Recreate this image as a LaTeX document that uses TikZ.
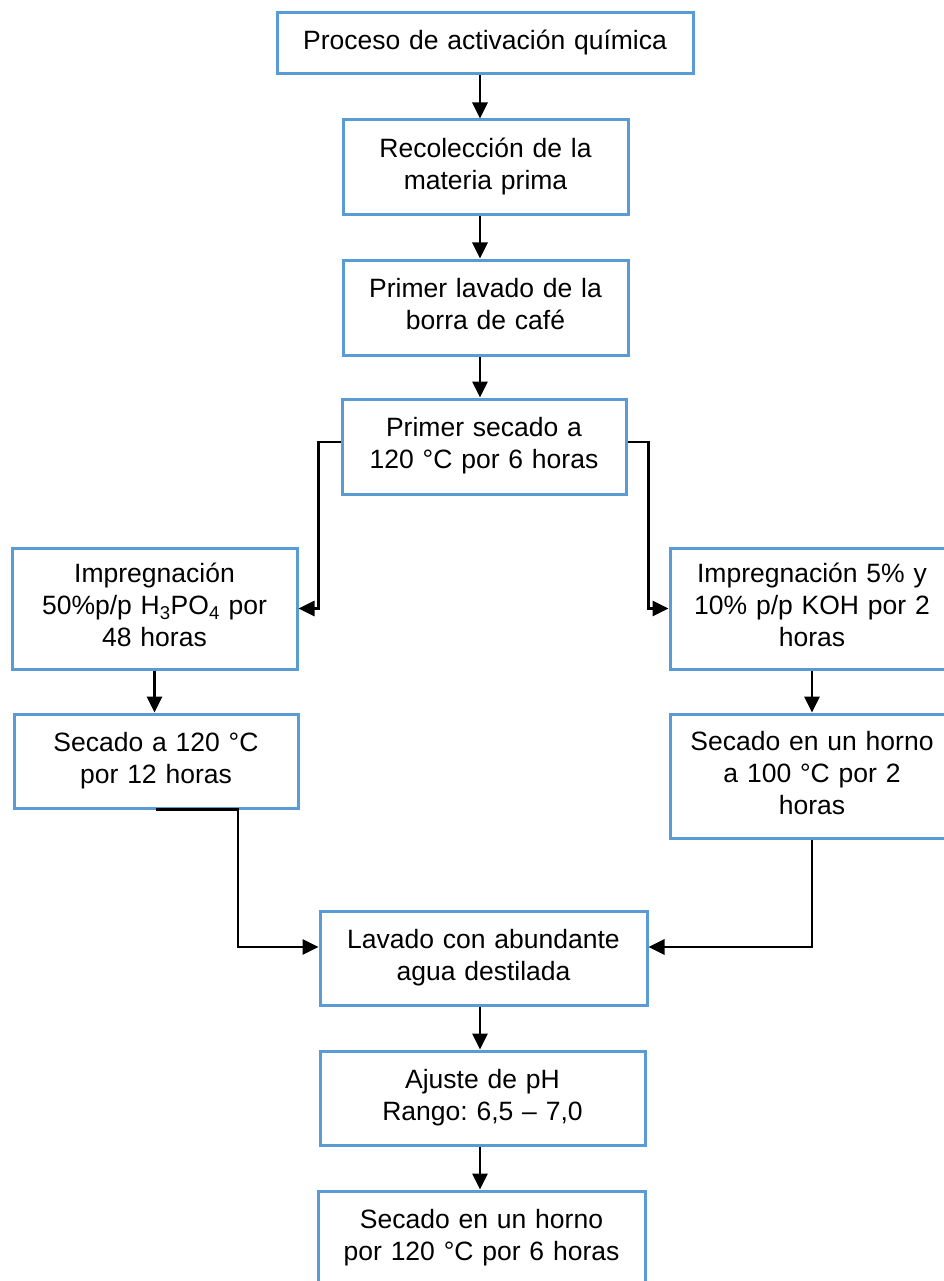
\documentclass[tikz,border=0pt]{standalone}
\usepackage{fontspec}
\setmainfont{Liberation Sans}
\usetikzlibrary{arrows.meta}
\definecolor{boxblue}{RGB}{91,155,213}
\frenchspacing
\begin{document}
\begin{tikzpicture}[x=1pt,y=-1pt,
  box/.style={draw=boxblue, line width=3pt, fill=white, rectangle, inner sep=0pt,
    align=center, font=\frenchspacing\fontsize{26.5}{32}\selectfont,
    execute at begin node=\strut, execute at end node=\strut},
  arr/.style={draw=black, line width=2.8pt, -{Triangle[length=16pt,width=15pt]}}]
\useasboundingbox (0,0) rectangle (944,1281);
\fill[white] (0,0) rectangle (944,1281);

\node[box, minimum width=416pt, minimum height=61pt, text width=406pt] (n1) at (485,43.5) {Proceso de activación química};
\node[box, minimum width=285pt, minimum height=95pt, text width=275pt] (n2) at (485.5,167.5) {Recolección de la\\materia prima};
\node[box, minimum width=285pt, minimum height=95pt, text width=275pt] (n3) at (485.5,307.5) {Primer lavado de la\\borra de café};
\node[box, minimum width=284pt, minimum height=95pt, text width=274pt] (n4) at (484,446.5) {Primer secado a\\120 °C por 6 horas};
\node[box, minimum width=285pt, minimum height=121pt, text width=275pt] (n5) at (154.5,608.5) {Impregnación\\50\%p/p H\textsubscript{3}PO\textsubscript{4} por\\48 horas};
\node[box, minimum width=284pt, minimum height=121pt, text width=274pt] (n6) at (812,608.5) {Impregnación 5\% y\\10\% p/p KOH por 2\\horas};
\node[box, minimum width=284pt, minimum height=94pt, text width=274pt] (n7) at (156,761) {Secado a 120 °C\\por 12 horas};
\node[box, minimum width=284pt, minimum height=124pt, text width=274pt] (n8) at (812,776) {Secado en un horno\\a 100 °C por 2\\horas};
\node[box, minimum width=327pt, minimum height=94pt, text width=317pt] (n9) at (483.5,958) {Lavado con abundante\\agua destilada};
\node[box, minimum width=325pt, minimum height=94pt, text width=315pt] (n10) at (482.5,1098) {Ajuste de pH\\Rango: 6,5 – 7,0};
\node[box, minimum width=327pt, minimum height=95pt, text width=317pt] (n11) at (481.5,1238.5) {Secado en un horno\\por 120 °C por 6 horas};

\coordinate (ax) at (480,0);
\draw[arr] (n1.south -| ax) -- (n2.north -| ax);
\draw[arr] (n2.south -| ax) -- (n3.north -| ax);
\draw[arr] (n3.south -| ax) -- (n4.north -| ax);
\draw[arr] ([yshift=4.5pt]n4.west) -- ++(-22,0) |- (n5.east);
\draw[arr] ([yshift=4.5pt]n4.east) -- ++(21,0) |- (n6.west);
\draw[arr] (n5.south) -- (n5.south |- n7.north);
\draw[arr] (n6.south) -- (n6.south |- n8.north);
\draw[arr] (n7.south) -- ++(82,0) |- ([yshift=11pt]n9.west);
\draw[arr] (n8.south) |- ([yshift=11pt]n9.east);
\draw[arr] (n9.south -| ax) -- (n10.north -| ax);
\draw[arr] (n10.south -| ax) -- (n11.north -| ax);
\end{tikzpicture}
\end{document}
